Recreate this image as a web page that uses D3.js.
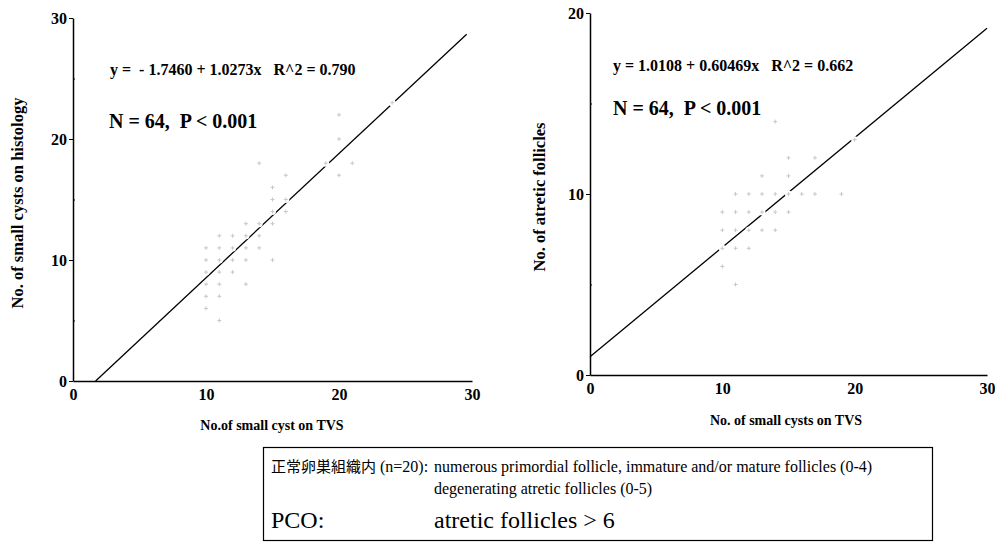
<!DOCTYPE html>
<html>
<head>
<meta charset="utf-8">
<script src="https://cdn.jsdelivr.net/npm/d3@7"></script>
<style>
  body { margin: 0; background: #fff; }
  svg, svg text, svg tspan { font-family: "Liberation Serif", "DejaVu Serif", serif; }
  .tick text { font-weight: bold; font-size: 16px; font-family: "Liberation Serif", "DejaVu Serif", serif; }
  .axis path, .axis line { stroke: #000; }
  .cjk { font-family: "Noto Sans CJK JP", sans-serif; }
</style>
</head>
<body>
<div class="graph"></div>
<script>
// left panel: small cysts on TVS vs small cysts on histology
var leftX = [10,10,10,10,10,10, 11,11,11,11,11,11,11, 12,12,12,12, 13,13,13,13,13, 14,14,14,14, 15,15,15,15,15, 16,16,16, 19, 20,20,20, 21, 24];
var leftY = [11,10, 9, 8, 7, 6, 12,11,10, 9, 8, 7, 5, 12,11,10, 9, 13,12,11,10, 8, 18,13,12,11, 16,15,14,13,10, 17,15,14, 18, 22,20,17, 18, 23];
var leftFit = [-1.7460, 1.0273];

// right panel: small cysts on TVS vs atretic follicles
var rightX = [11,12,13,14,15,16,17,19, 10,11,12,13,14,15, 10,11,12,13,14, 10,11,12, 10, 11, 13,15, 15,17, 20, 14];
var rightY = [10,10,10,10,10,10,10,10,  9, 9, 9, 9, 9, 9,  8, 8, 8, 8, 8,  7, 7, 7,  6,  5, 11,11, 12,12, 13, 14];
var rightFit = [1.0108, 0.60469];

var xTicks = [0, 10, 20, 30];
var leftYTicks = [0, 10, 20, 30];
var rightYTicks = [0, 10, 20];

var serif = '"Liberation Serif", "DejaVu Serif", serif';

var svg = d3.select('.graph')
            .append('svg')
            .attr('width', 995)
            .attr('height', 542)
            .attr('font-family', serif);

function panel(opt) {
  var x = d3.scaleLinear().domain([0, 30]).range(opt.xr),
      y = d3.scaleLinear().domain([0, opt.ymax]).range(opt.yr);

  var g = svg.append('g');

  // minor ticks inside
  g.append('g')
   .attr('class', 'axis')
   .attr('transform', 'translate(' + opt.xr[0] + ',0)')
   .call(d3.axisRight(y).tickValues(d3.range(5, opt.ymax, 10)).tickSize(2).tickFormat(''))
   .select('.domain').remove();

  g.append('g')
   .attr('class', 'axis')
   .attr('transform', 'translate(0,' + opt.yr[0] + ')')
   .call(d3.axisBottom(x).tickValues(xTicks).tickSize(0).tickPadding(8).tickSizeOuter(0))
   .attr('font-family', serif)
   .select('.domain').attr('stroke-width', 1.5);

  g.append('g')
   .attr('class', 'axis')
   .attr('transform', 'translate(' + opt.xr[0] + ',0)')
   .call(d3.axisLeft(y).tickValues(opt.yTicks).tickSize(4).tickPadding(2).tickSizeOuter(0))
   .attr('font-family', serif)
   .select('.domain').attr('stroke-width', 1.5);

  // regression line
  var fx = function(v) { return opt.fit[0] + opt.fit[1] * v; };
  g.append('line')
   .attr('x1', x(opt.lineX[0])).attr('y1', y(fx(opt.lineX[0])))
   .attr('x2', x(opt.lineX[1])).attr('y2', y(fx(opt.lineX[1])))
   .attr('stroke', '#000')
   .attr('stroke-width', 1.3);

  var pts = opt.xs.map(function(v, i) { return [v, opt.ys[i]]; });

  var pt = g.selectAll('.pt')
            .data(pts)
            .enter()
            .append('g')
            .attr('class', 'pt')
            .attr('transform', function(d) { return 'translate(' + x(d[0]) + ',' + y(d[1]) + ')'; });

  pt.append('circle').attr('r', 3.5).attr('fill', '#fff');
  pt.append('path')
    .attr('d', 'M-2,0H2M0,-2V2')
    .attr('stroke', '#c8c8c8')
    .attr('stroke-width', 1);

  g.append('text')
   .attr('x', opt.eq[0]).attr('y', opt.eq[1])
   .style('font-weight', 'bold').style('font-size', '16px')
   .attr('xml:space', 'preserve')
   .text(opt.eqText);

  g.append('text')
   .attr('x', opt.n[0]).attr('y', opt.n[1])
   .style('font-weight', 'bold').style('font-size', '20px')
   .attr('xml:space', 'preserve')
   .text('N = 64,  P < 0.001');

  g.append('text')
   .attr('x', opt.xt[0]).attr('y', opt.xt[1])
   .attr('text-anchor', 'middle')
   .style('font-weight', 'bold').style('font-size', '14px')
   .text(opt.xTitle);

  g.append('text')
   .attr('transform', 'translate(' + opt.yt[0] + ',' + opt.yt[1] + ') rotate(-90)')
   .attr('text-anchor', 'middle')
   .style('font-weight', 'bold').style('font-size', '16.5px')
   .text(opt.yTitle);
}

panel({
  xr: [73, 472], yr: [381, 18], ymax: 30, yTicks: leftYTicks,
  xs: leftX, ys: leftY, fit: leftFit, lineX: [1.7, 29.6],
  eq: [110, 75], eqText: 'y =  - 1.7460 + 1.0273x   R^2 = 0.790',
  n: [109, 128],
  xt: [272, 430], xTitle: 'No.of small cyst on TVS',
  yt: [23, 203], yTitle: 'No. of small cysts on histology'
});

panel({
  xr: [590, 987], yr: [375, 13], ymax: 20, yTicks: rightYTicks,
  xs: rightX, ys: rightY, fit: rightFit, lineX: [0, 30],
  eq: [613, 71], eqText: 'y = 1.0108 + 0.60469x   R^2 = 0.662',
  n: [613, 115],
  xt: [786, 425], xTitle: 'No. of small cysts on TVS',
  yt: [545, 197], yTitle: 'No. of atretic follicles'
});

// legend box below
var box = svg.append('g');
box.append('rect')
   .attr('x', 263.5).attr('y', 447.5)
   .attr('width', 669).attr('height', 93)
   .attr('fill', 'none').attr('stroke', '#000').attr('stroke-width', 1.2);

var t1 = box.append('text').attr('x', 271).attr('y', 472).style('font-size', '16px');
t1.append('tspan').attr('class', 'cjk').style('font-size', '15px').text('正常卵巣組織内');
t1.append('tspan').text(' (n=20):');

box.append('text').attr('x', 434).attr('y', 472).style('font-size', '16px')
   .text('numerous primordial follicle, immature and/or mature follicles (0-4)');

box.append('text').attr('x', 434).attr('y', 494).style('font-size', '16px')
   .text('degenerating atretic follicles (0-5)');

box.append('text').attr('x', 271).attr('y', 528).style('font-size', '24px').text('PCO:');
box.append('text').attr('x', 434).attr('y', 528).style('font-size', '24px').text('atretic follicles > 6');
</script>
</body>
</html>
